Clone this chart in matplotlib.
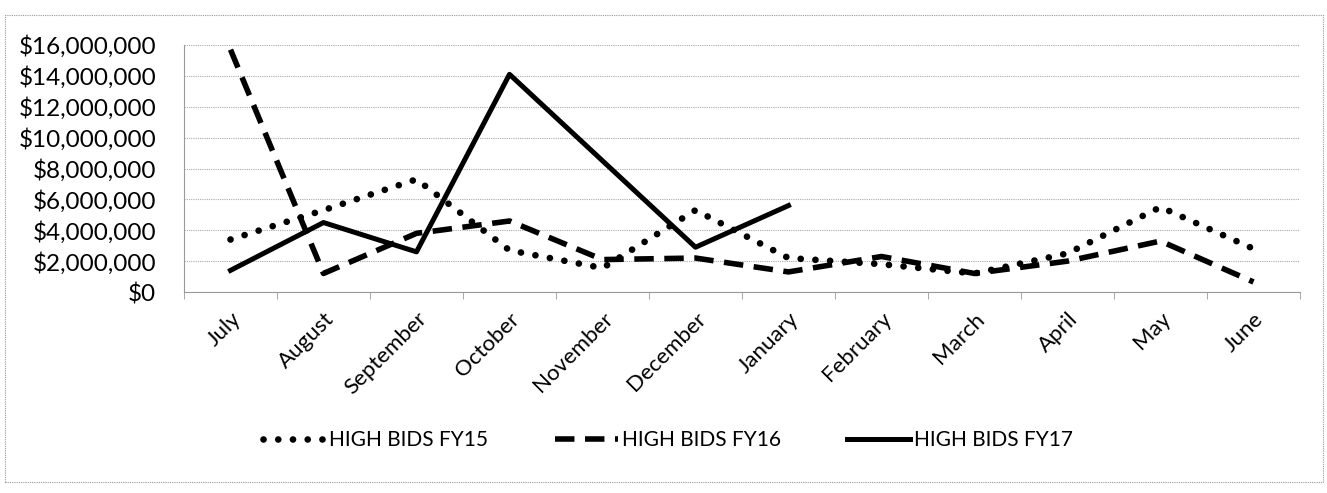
import numpy as np
import matplotlib
matplotlib.use("Agg")
import matplotlib.pyplot as plt
from matplotlib.ticker import FuncFormatter
from matplotlib.patches import Rectangle

months = ["July", "August", "September", "October", "November", "December",
          "January", "February", "March", "April", "May", "June"]

# values in dollars
fy15 = [3.4e6, 5.3e6, 7.3e6, 2.7e6, 1.55e6, 5.3e6, 2.2e6, 1.8e6, 1.2e6, 2.5e6, 5.5e6, 2.8e6]
fy16 = [15.7e6, 1.2e6, 3.8e6, 4.6e6, 2.1e6, 2.2e6, 1.3e6, 2.3e6, 1.2e6, 2.0e6, 3.3e6, 0.65e6]
fy17 = [1.4e6, 4.5e6, 2.6e6, 14.1e6, 8.5e6, 2.9e6, 5.6e6]

plt.rcParams['font.family'] = ['Lato', 'DejaVu Sans']

fig = plt.figure(figsize=(13.27, 4.93), dpi=100)
ax = fig.add_axes([184/1327, 1 - 292/493, (1300-184)/1327, (292-45)/493])

x = np.arange(len(months))
ax.plot(x, fy15, color='black', lw=4.8, linestyle=(0, (0.01, 2.2)),
        dash_capstyle='round', label='HIGH BIDS FY15')
ax.plot(x, fy16, color='black', lw=4, linestyle=(0, (3.5, 1.9)),
        label='HIGH BIDS FY16')
ax.plot(x[:len(fy17)], fy17, color='black', lw=3.6, linestyle='-',
        label='HIGH BIDS FY17')

ax.set_xlim(-0.5, len(months) - 0.5)
ax.set_ylim(0, 16e6)
ax.set_yticks(np.arange(0, 16e6 + 1, 2e6))
ax.yaxis.set_major_formatter(FuncFormatter(lambda v, p: "${:,.0f}".format(v)))
ax.set_xticks(x)
ax.set_xticklabels(months, rotation=45, ha='right', rotation_mode='anchor')
ax.set_xticks(np.arange(-0.5, len(months)), minor=True)
ax.tick_params(axis='x', which='major', length=0, labelsize=16, pad=12)
ax.tick_params(axis='x', which='minor', length=5, color='#999999', direction='out')
ax.tick_params(axis='y', length=0, labelsize=17.5, pad=20)

ax.grid(axis='y', color='#aaaaaa', lw=0.8, linestyle=(0, (1, 1)))
ax.set_axisbelow(True)
for s in ['top', 'right']:
    ax.spines[s].set_visible(False)
ax.spines['left'].set_color('#999999')
ax.spines['left'].set_linestyle((0, (1, 1)))
ax.spines['bottom'].set_color('#999999')
ax.spines['bottom'].set_linestyle((0, (1, 1)))

fig.legend(loc='center', bbox_to_anchor=(668/1327, 1 - 440/493), ncol=3, frameon=False,
           fontsize=15, handlelength=3.0, handletextpad=0.2, columnspacing=3.2)

fig.patches.append(Rectangle((5/1327, 1 - 482/493), 1318/1327, 467/493,
                             transform=fig.transFigure, fill=False,
                             edgecolor='#999999', lw=0.8, linestyle=(0, (1, 1))))

fig.savefig("out.png", dpi=100)
